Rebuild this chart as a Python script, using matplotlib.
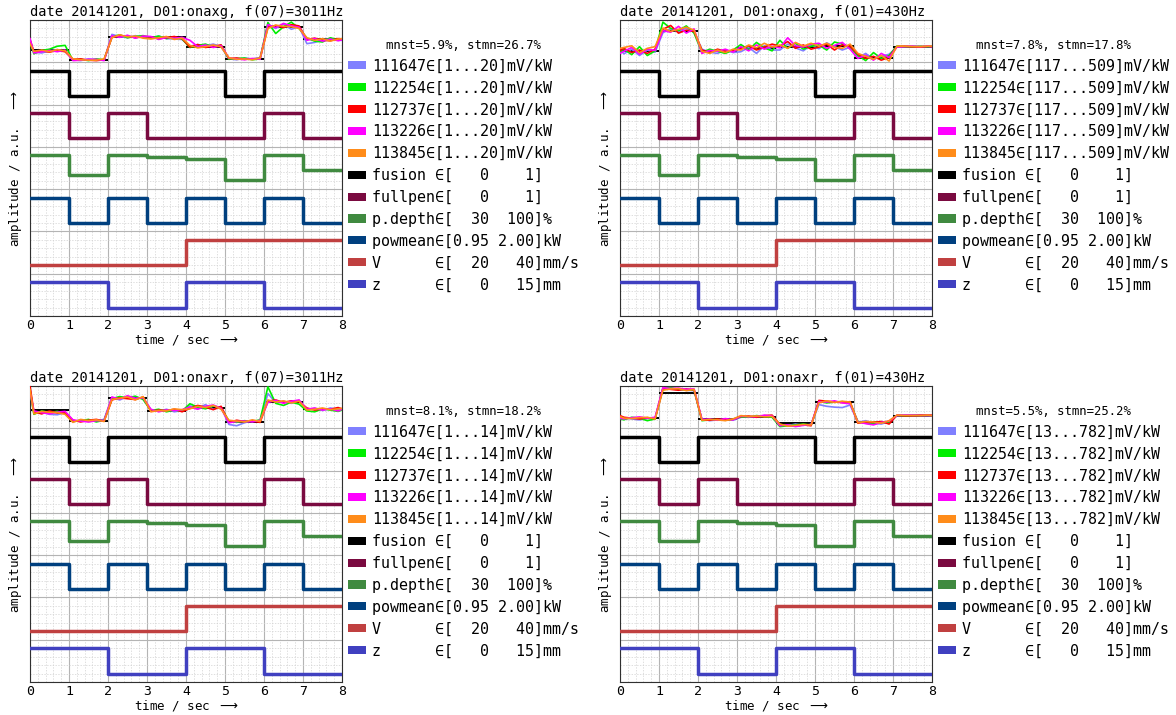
import numpy as np
import matplotlib
matplotlib.use('Agg')
import matplotlib.pyplot as plt
from matplotlib.patches import Patch
from matplotlib.ticker import MultipleLocator

plt.rcParams['font.family'] = ['DejaVu Sans Mono', 'DejaVu Sans']

# zaman eksenleri
t_sig = [0.0] + [round(0.1 + 0.2 * k, 2) for k in range(40)] + [8.0]
t_step = list(range(9))

# sensor isimleri / renkleri
sensor_names = ['111647', '112254', '112737', '113226', '113845']
sensor_colors = ['#8080ff', '#00ee00', '#ff0000', '#ff00ff', '#ff8c1a']

# proses sinyalleri (saniye basina bir deger)
fusion = [1, 0, 1, 1, 1, 0, 1, 1]
fullpen = [1, 0, 1, 0, 0, 0, 1, 0]
pdepth = [100, 45, 100, 95, 89, 32, 100, 59]
powmean = [2.00, 0.95, 2.00, 0.95, 2.00, 0.95, 2.00, 0.95]
speed = [20, 20, 20, 20, 40, 40, 40, 40]
zpos = [15, 15, 0, 0, 15, 15, 0, 0]

step_names = ['fusion', 'fullpen', 'p.depth', 'powmean', 'V', 'z']
step_lo = [0, 0, 30, 0.95, 20, 0]
step_hi = [1, 1, 100, 2.00, 40, 15]
step_range_txt = ['[   0    1]', '[   0    1]', '[  30  100]%', '[0.95 2.00]kW',
                  '[  20   40]mm/s', '[   0   15]mm']
step_colors = ['#000000', '#7a0a40', '#408a40', '#00407f', '#c04040', '#4040c0']

titles = ['date 20141201, D01:onaxg, f(07)=3011Hz', 'date 20141201, D01:onaxg, f(01)=430Hz',
          'date 20141201, D01:onaxr, f(07)=3011Hz', 'date 20141201, D01:onaxr, f(01)=430Hz']
stats = ['mnst=5.9%, stmn=26.7%', 'mnst=7.8%, stmn=17.8%',
         'mnst=8.1%, stmn=18.2%', 'mnst=5.5%, stmn=25.2%']
sensor_ranges = ['1...20', '117...509', '1...14', '13...782']

# siyah referans seviyeleri (ust bant, % bant yuksekligi)
ref_tl = [28, 6, 60, 60, 37, 8, 84, 54]
ref_tr = [27, 75, 26, 34, 37, 39, 10, 37]
ref_bl = [44, 17, 71, 42, 48, 16, 63, 45]
ref_br = [24, 83, 22, 27, 12, 61, 14, 30]

# sensor sinyalleri (ust bant, % bant yuksekligi)
sig_tl = [
    [50, 24, 22, 27, 30, 26, 6, 4, 8, 6, 5, 66, 61, 58, 63, 59, 57, 62, 56, 55, 54,
     38, 42, 39, 43, 37, 8, 6, 10, 8, 11, 88, 80, 90, 78, 84, 44, 47, 53, 56, 52, 52],
    [48, 20, 28, 31, 38, 40, 5, 7, 4, 8, 6, 60, 65, 58, 61, 63, 58, 62, 56, 60, 55,
     35, 40, 43, 36, 40, 7, 9, 10, 6, 8, 94, 68, 84, 95, 80, 57, 50, 48, 58, 53, 55],
    [54, 25, 27, 24, 28, 25, 7, 8, 5, 4, 6, 59, 63, 62, 58, 61, 60, 56, 58, 61, 56,
     36, 42, 35, 38, 41, 9, 10, 7, 8, 9, 83, 87, 82, 89, 86, 54, 57, 52, 51, 56, 54],
    [56, 22, 25, 28, 25, 29, 4, 5, 7, 7, 4, 63, 59, 64, 57, 62, 61, 54, 59, 57, 59,
     52, 37, 41, 35, 39, 10, 8, 6, 9, 7, 89, 82, 92, 86, 83, 52, 56, 50, 55, 51, 53],
    [44, 26, 29, 25, 30, 27, 8, 6, 5, 5, 8, 58, 65, 60, 62, 57, 55, 58, 61, 54, 57,
     40, 34, 37, 41, 36, 11, 7, 8, 6, 10, 80, 88, 85, 84, 80, 58, 52, 56, 50, 55, 56],
]
sig_tr = [
    [30, 20, 31, 16, 29, 24, 70, 79, 72, 81, 71, 31, 24, 21, 29, 23, 25, 35, 21, 39, 29,
     29, 43, 34, 27, 41, 32, 46, 37, 29, 36, 11, 21, 7, 14, 19, 36, 37, 38, 37, 37, 37],
    [24, 31, 18, 37, 16, 27, 95, 80, 75, 86, 69, 23, 31, 26, 21, 29, 42, 29, 47, 34, 27,
     52, 33, 45, 31, 38, 41, 29, 48, 43, 35, 16, 4, 23, 9, 16, 38, 37, 37, 38, 37, 38],
    [28, 33, 23, 29, 21, 31, 78, 87, 69, 76, 73, 29, 23, 31, 26, 27, 32, 39, 29, 36, 43,
     38, 49, 33, 41, 31, 36, 43, 29, 41, 38, 19, 9, 14, 5, 12, 37, 38, 37, 36, 38, 37],
    [21, 26, 35, 19, 31, 28, 75, 71, 85, 69, 79, 21, 28, 26, 31, 24, 37, 27, 41, 31, 38,
     34, 58, 39, 36, 43, 45, 33, 40, 47, 31, 9, 17, 5, 21, 11, 36, 37, 38, 37, 38, 37],
    [33, 35, 39, 23, 33, 37, 81, 73, 78, 83, 76, 26, 21, 29, 23, 31, 29, 41, 34, 45, 36,
     41, 33, 47, 38, 45, 38, 45, 35, 33, 43, 21, 14, 7, 16, 3, 38, 38, 37, 37, 38, 38],
]
sig_bl = [
    [95, 35, 39, 33, 32, 37, 15, 20, 16, 18, 21, 73, 67, 75, 70, 72, 44, 40, 45, 39, 42,
     53, 47, 56, 45, 50, 9, 6, 13, 18, 17, 82, 61, 64, 59, 66, 44, 47, 42, 48, 45, 44],
    [90, 33, 41, 37, 40, 35, 17, 18, 21, 15, 19, 70, 75, 72, 76, 68, 42, 45, 39, 43, 41,
     58, 50, 46, 53, 49, 17, 14, 18, 16, 20, 98, 59, 54, 62, 57, 41, 39, 46, 43, 40, 43],
    [100, 39, 34, 41, 36, 37, 19, 15, 19, 21, 17, 67, 72, 70, 68, 74, 40, 43, 42, 45, 39,
     47, 54, 50, 44, 52, 14, 19, 16, 17, 14, 64, 67, 61, 65, 63, 48, 43, 46, 45, 49, 46],
    [85, 41, 37, 34, 38, 40, 20, 17, 15, 18, 18, 74, 69, 77, 71, 72, 45, 39, 43, 42, 44,
     50, 45, 52, 55, 47, 13, 16, 17, 15, 19, 61, 66, 59, 64, 67, 45, 48, 43, 46, 41, 45],
    [92, 34, 40, 38, 37, 33, 14, 21, 18, 20, 16, 68, 71, 74, 67, 75, 39, 42, 41, 46, 44,
     46, 52, 49, 54, 45, 19, 17, 15, 20, 16, 67, 62, 65, 60, 64, 43, 45, 48, 44, 46, 47],
]
sig_br = [
    [26, 25, 22, 20, 23, 24, 92, 95, 93, 90, 89, 22, 18, 20, 21, 19, 26, 28, 27, 29, 30,
     8, 6, 10, 7, 9, 56, 52, 50, 49, 55, 14, 18, 12, 10, 16, 30, 31, 30, 31, 30, 30],
    [22, 20, 26, 24, 18, 22, 95, 96, 92, 91, 90, 18, 20, 21, 19, 22, 27, 26, 30, 28, 26,
     4, 6, 8, 10, 7, 64, 60, 62, 63, 60, 16, 12, 10, 15, 13, 30, 30, 31, 30, 30, 30],
    [30, 26, 24, 22, 25, 23, 94, 92, 90, 93, 91, 20, 19, 22, 20, 21, 28, 29, 26, 30, 31,
     9, 7, 5, 8, 6, 66, 64, 62, 61, 63, 12, 15, 14, 16, 10, 31, 30, 30, 31, 31, 31],
    [24, 22, 25, 27, 24, 26, 96, 94, 95, 92, 93, 21, 22, 19, 23, 20, 29, 27, 28, 31, 29,
     6, 8, 4, 7, 9, 63, 62, 65, 60, 58, 15, 11, 8, 14, 17, 30, 31, 31, 30, 30, 30],
    [28, 24, 23, 25, 26, 22, 90, 93, 94, 89, 92, 19, 21, 20, 18, 22, 30, 28, 29, 27, 28,
     10, 5, 7, 9, 8, 60, 65, 61, 64, 62, 13, 16, 15, 12, 18, 31, 30, 30, 30, 31, 30],
]

all_sigs = [sig_tl, sig_tr, sig_bl, sig_br]
all_refs = [ref_tl, ref_tr, ref_bl, ref_br]
step_data = [fusion, fullpen, pdepth, powmean, speed, zpos]

W, H = 1176, 715
fig = plt.figure(figsize=(W / 100, H / 100), dpi=100)
# eksen konumlari (piksel)
ax_left = [30, 620, 30, 620]
ax_top = [20, 20, 386, 386]
ax_w, ax_h = 312, 296

for i in range(4):
    ax = fig.add_axes([ax_left[i] / W, 1 - (ax_top[i] + ax_h) / H, ax_w / W, ax_h / H])
    ax.set_xlim(0, 8)
    ax.set_ylim(0, 7)

    # referans seviyeleri
    ref_y = [6 + r / 100 for r in all_refs[i]]
    ax.hlines(ref_y, t_step[:-1], t_step[1:], colors='k', lw=1.4, zorder=2)

    # sensor sinyalleri
    for s, col in zip(all_sigs[i], sensor_colors):
        ax.plot(t_sig, [6 + v / 100 for v in s], color=col, lw=1.2, zorder=3)

    # adim sinyalleri
    for k, (vals, lo, hi, col) in enumerate(zip(step_data, step_lo, step_hi, step_colors)):
        base = 5 - k
        y = [base + 0.2 + 0.6 * (v - lo) / (hi - lo) for v in vals]
        ax.step(t_step, y + [y[-1]], where='post', color=col, lw=2.5, zorder=4)

    ax.set_xticks(range(9))
    ax.xaxis.set_minor_locator(MultipleLocator(0.2))
    ax.set_yticks(range(8))
    ax.yaxis.set_minor_locator(MultipleLocator(0.2))
    ax.grid(which='major', color='#b4b4b4', lw=0.8, ls='-', zorder=0)
    ax.grid(which='minor', color='#d2d2d2', lw=0.5, ls=(0, (2, 2)), zorder=0)
    ax.set_axisbelow(True)
    ax.tick_params(axis='y', which='both', left=False, labelleft=False)
    ax.tick_params(axis='x', which='minor', length=0)
    ax.tick_params(axis='x', which='major', length=0, labelsize=9.5, pad=2)
    for sp in ax.spines.values():
        sp.set_color('#303030')
        sp.set_linewidth(0.8)

    ax.set_title(titles[i], loc='left', fontsize=9.8, pad=3)
    ax.set_xlabel(r'time / sec $\longrightarrow$', fontsize=9, labelpad=0)
    ax.set_ylabel(r'amplitude / a.u.  $\longrightarrow$', fontsize=9, labelpad=4)

    # lejant
    labels = [f'{n}\u2208[{sensor_ranges[i]}]mV/kW' for n in sensor_names]
    labels += [f'{n:<7}\u2208{r}' for n, r in zip(step_names, step_range_txt)]
    handles = [Patch(facecolor=c, edgecolor='none') for c in sensor_colors + step_colors]
    leg = ax.legend(handles, labels, loc='upper left', bbox_to_anchor=(1.019, 0.937),
                    borderaxespad=0, borderpad=0, frameon=False, fontsize=10.8,
                    handlelength=1.2, handleheight=0.46, handletextpad=0.4,
                    labelspacing=0.46, title=stats[i], title_fontsize=8.8)

fig.savefig('out.png', dpi=100)
